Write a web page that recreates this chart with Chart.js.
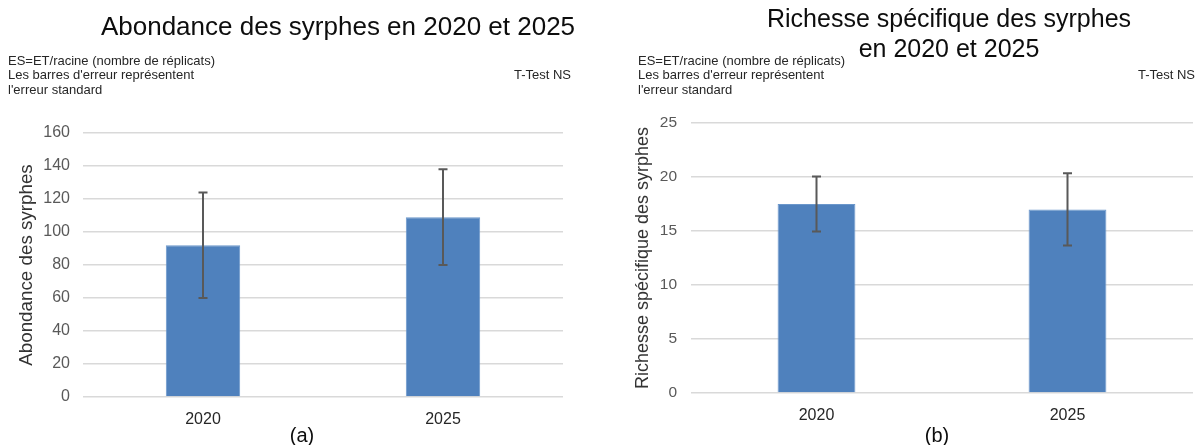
<!DOCTYPE html>
<html lang="fr">
<head>
<meta charset="utf-8">
<title>Syrphes 2020 / 2025</title>
<script src="https://cdn.jsdelivr.net/npm/chart.js@4.4.1/dist/chart.umd.min.js"></script>
<style>
  html, body { margin: 0; padding: 0; background: #fff; }
  #wrap { position: relative; width: 1197px; height: 445px; }
  .panel { position: absolute; top: 0; height: 445px; }
  #panelA { left: 0; width: 598px; }
  #panelB { left: 598px; width: 599px; }
</style>
</head>
<body>
<div id="wrap">
  <div class="panel" id="panelA"><canvas id="chartA" width="598" height="445"></canvas></div>
  <div class="panel" id="panelB"><canvas id="chartB" width="599" height="445"></canvas></div>
</div>
<script>
// données
const years = ['2020', '2025'];
const abondance = [92, 109];
const abondanceSE = [32, 29];
const richesse = [17.5, 17.0];
const richesseSE = [2.55, 3.35];
const abondanceTicks = { min: 0, max: 160, step: 20 };
const richesseTicks = { min: 0, max: 25, step: 5 };

const FONT = "'Liberation Sans', Arial, sans-serif";
const BAR = '#4F81BD';
const GRID = '#d9d9d9';
const TICK = '#595959';

const notes = [
  'ES=ET/racine (nombre de réplicats)',
  "Les barres d'erreur représentent",
  "l'erreur standard"
];

// barres d'erreur (± erreur standard)
const errorBars = {
  id: 'errorBars',
  afterDatasetsDraw(chart, args, opts) {
    const { ctx } = chart;
    const y = chart.scales.y;
    const values = chart.data.datasets[0].data;
    const meta = chart.getDatasetMeta(0);
    ctx.save();
    ctx.strokeStyle = opts.color;
    ctx.lineWidth = opts.width;
    meta.data.forEach((bar, i) => {
      const hi = y.getPixelForValue(values[i] + opts.errors[i]);
      const lo = y.getPixelForValue(values[i] - opts.errors[i]);
      const x = bar.x;
      const c = opts.cap / 2;
      ctx.beginPath();
      ctx.moveTo(x, hi); ctx.lineTo(x, lo);
      ctx.moveTo(x - c, hi); ctx.lineTo(x + c, hi);
      ctx.moveTo(x - c, lo); ctx.lineTo(x + c, lo);
      ctx.stroke();
    });
    ctx.restore();
  }
};

// titres, notes et lettres de panneau
const texts = {
  id: 'texts',
  afterDraw(chart, args, opts) {
    const { ctx } = chart;
    ctx.save();
    ctx.textBaseline = 'middle';
    opts.items.forEach(t => {
      ctx.font = t.font;
      ctx.fillStyle = t.color || '#000';
      ctx.textAlign = t.align || 'left';
      ctx.fillText(t.text, t.x, t.y);
    });
    ctx.restore();
  }
};

function noteItems(x, right) {
  const items = notes.map((n, i) => ({ text: n, x: x, y: 61 + i * 14.5, font: '13px ' + FONT, color: '#262626' }));
  items.push({ text: 'T-Test NS', x: right, y: 75.5, font: '13px ' + FONT, color: '#262626', align: 'right' });
  return items;
}

function makeChart(id, cfg) {
  return new Chart(document.getElementById(id), {
    type: 'bar',
    data: {
      labels: years,
      datasets: [{
        data: cfg.values,
        backgroundColor: BAR,
        borderColor: '#6b97cb',
        borderWidth: 1,
        barPercentage: 0.31,
        categoryPercentage: 1
      }]
    },
    options: {
      responsive: false,
      animation: false,
      layout: { padding: cfg.padding },
      plugins: {
        legend: { display: false },
        tooltip: { enabled: false },
        errorBars: { errors: cfg.errors, color: '#595959', width: 2, cap: 9 },
        texts: { items: cfg.texts }
      },
      scales: {
        x: {
          afterFit(scale) { scale.height = 30; },
          grid: { display: false },
          border: { display: false },
          ticks: { color: '#262626', font: { family: FONT, size: 16 }, padding: 5 }
        },
        y: {
          min: cfg.ticks.min,
          max: cfg.ticks.max,
          afterFit(scale) { scale.width = cfg.axisWidth; },
          grid: { color: GRID, lineWidth: 1.5, drawTicks: false },
          border: { display: false },
          ticks: { stepSize: cfg.ticks.step, color: TICK, font: { family: FONT, size: cfg.tickSize }, padding: cfg.tickPad },
          title: {
            display: true,
            text: cfg.yTitle,
            color: '#333333',
            font: { family: FONT, size: cfg.yTitleSize },
            padding: { top: cfg.yTitlePad, bottom: 0 }
          }
        }
      }
    },
    plugins: [errorBars, texts]
  });
}

makeChart('chartA', {
  values: abondance,
  errors: abondanceSE,
  ticks: abondanceTicks,
  axisWidth: 83,
  tickSize: 16,
  tickPad: 13,
  yTitle: 'Abondance des syrphes',
  yTitleSize: 18.8,
  yTitlePad: 15.7,
  padding: { top: 133, right: 35, bottom: 18, left: 0 },
  texts: [
    { text: 'Abondance des syrphes en 2020 et 2025', x: 338, y: 28, font: '26px ' + FONT, color: '#0d0d0d', align: 'center' },
    ...noteItems(8, 571),
    { text: '(a)', x: 302, y: 436, font: '20px ' + FONT, color: '#0d0d0d', align: 'center' }
  ]
});

makeChart('chartB', {
  values: richesse,
  errors: richesseSE,
  ticks: richesseTicks,
  axisWidth: 93,
  tickSize: 15.5,
  tickPad: 14,
  yTitle: 'Richesse spécifique des syrphes',
  yTitleSize: 18,
  yTitlePad: 34,
  padding: { top: 123, right: 4, bottom: 22, left: 0 },
  texts: [
    { text: 'Richesse spécifique des syrphes', x: 351, y: 20, font: '25px ' + FONT, color: '#0d0d0d', align: 'center' },
    { text: 'en 2020 et 2025', x: 351, y: 50, font: '25px ' + FONT, color: '#0d0d0d', align: 'center' },
    ...noteItems(40, 597),
    { text: '(b)', x: 339, y: 436, font: '20px ' + FONT, color: '#0d0d0d', align: 'center' }
  ]
});
</script>
</body>
</html>
